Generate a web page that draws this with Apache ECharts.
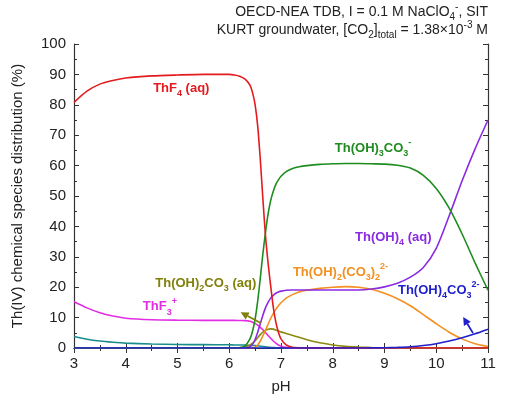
<!DOCTYPE html>
<html><head><meta charset="utf-8">
<script src="https://cdn.jsdelivr.net/npm/echarts/dist/echarts.min.js"></script>
<style>html,body{margin:0;padding:0;background:#fff}#c{width:507px;height:406px}</style>
</head><body><div id="c"></div>
<script>
// ---- data ----
const pH = [3.0,3.25,3.5,3.75,4.0,4.5,5.0,5.5,6.0,6.1,6.2,6.3,6.4,6.45,6.5,6.55,6.6,6.65,6.7,6.75,6.8,6.85,6.9,6.95,7.0,7.1,7.2,7.35,7.5,7.75,8.0,8.25,8.5,8.75,9.0,9.25,9.5,9.75,10.0,10.25,10.5,10.75,11.0];
const ThF4 = [80.8,84.5,86.8,88.0,88.8,89.5,89.8,90.0,90.0,89.8,89.4,88.5,86.5,84,80,73,62,49,37,28,20.5,13.5,8.5,5.2,3.0,1.0,0.3,0.05,0,0,0,0,0,0,0,0,0,0,0,0,0,0,0];
const ThOH3CO3 = [0,0,0,0,0,0,0,0,0,0,0.1,0.6,3.0,5.5,9.5,15.5,23,31,38,44,48.5,51.5,53.8,55.3,56.5,58,58.9,59.6,60.0,60.4,60.6,60.7,60.7,60.6,60.5,60.1,59.2,56.8,52.5,46,37.5,28,19];
const ThOH4 = [0,0,0,0,0,0,0,0,0,0,0,0,0.4,1.2,2.8,5.2,8,10.8,13.2,15.0,16.4,17.3,18.0,18.4,18.7,19.0,19.1,19.1,19.1,19.1,19.1,19.1,19.1,19.4,20.1,21.3,23.3,26.5,32.8,43.5,55,65.5,75];
const ThOH2CO32 = [0,0,0,0,0,0,0,0,0,0,0,0,0,0,0.3,1.0,2.3,4.0,5.8,7.8,9.7,11.3,12.7,13.9,14.9,16.4,17.4,18.4,19.0,19.6,20.0,20.2,20.0,19.3,18.0,16.2,13.9,11.0,8.0,5.2,3.0,1.4,0.5];
const ThOH2CO3 = [0,0,0,0,0,0,0,0,0,0,0.05,0.3,1.0,1.6,2.4,3.4,4.4,5.2,5.8,6.2,6.3,6.2,5.9,5.6,5.3,4.8,4.3,3.5,2.7,1.7,1.0,0.55,0.3,0.15,0.07,0,0,0,0,0,0,0,0];
const ThF3 = [15.2,13.2,11.6,10.5,9.8,9.3,9.15,9.1,9.1,9.1,9.05,9.0,8.8,8.5,8.1,7.5,6.8,6.0,5.1,4.1,3.2,2.3,1.6,1.0,0.6,0.2,0.05,0,0,0,0,0,0,0,0,0,0,0,0,0,0,0,0];
const ThF2 = [3.8,2.9,2.3,1.9,1.6,1.3,1.15,1.1,1.05,1.0,1.0,0.95,0.9,0.85,0.8,0.7,0.6,0.5,0.4,0.3,0.22,0.15,0.1,0.07,0.05,0,0,0,0,0,0,0,0,0,0,0,0,0,0,0,0,0,0];
const ThOH4CO3 = [0,0,0,0,0,0,0,0,0,0,0,0,0,0,0,0,0,0,0,0,0,0,0,0,0,0,0,0,0,0,0,0,0,0.03,0.08,0.2,0.4,0.8,1.4,2.3,3.4,4.7,6.2];

const xMin = 3, xMax = 11, xStep = 1;
const yMin = 0, yMax = 100, yStep = 10;

const seriesDefs = [
  {name:'ThF2', data:ThF2, color:'#1a8c8c'},
  {name:'ThF3+', data:ThF3, color:'#e22ee2'},
  {name:'Th(OH)2CO3(aq)', data:ThOH2CO3, color:'#8a8a10'},
  {name:'Th(OH)2(CO3)2', data:ThOH2CO32, color:'#f39020'},
  {name:'Th(OH)4(aq)', data:ThOH4, color:'#8a2be2'},
  {name:'Th(OH)3CO3-', data:ThOH3CO3, color:'#1f8c1f'},
  {name:'ThF4(aq)', data:ThF4, color:'#e31b1f'},
  {name:'Th(OH)4CO3', data:ThOH4CO3, color:'#1f1fcc'}
];

const FONT = 'Liberation Sans, Arial, sans-serif';
const chart = echarts.init(document.getElementById('c'));

const axisCommon = {
  axisLine:{show:true, lineStyle:{color:'#333', width:1.2}},
  axisTick:{show:true, inside:true, length:5, lineStyle:{color:'#333'}},
  minorTick:{show:true, splitNumber:2, length:3, lineStyle:{color:'#333'}},
  splitLine:{show:false}
};

chart.setOption({
  animation:false,
  backgroundColor:'#fff',
  grid:{left:74, right:19, top:44, bottom:58},
  xAxis:[
    Object.assign({type:'value', min:xMin, max:xMax, interval:xStep, position:'bottom',
      name:'pH', nameLocation:'middle', nameGap:31,
      nameTextStyle:{fontSize:15, color:'#222', fontFamily:FONT},
      axisLabel:{fontSize:15, color:'#222', margin:8, fontFamily:FONT}}, axisCommon),
    Object.assign({type:'value', min:xMin, max:xMax, interval:xStep, position:'top',
      axisLabel:{show:false}}, axisCommon)
  ],
  yAxis:[
    Object.assign({type:'value', min:yMin, max:yMax, interval:yStep, position:'left',
      name:'Th(IV) chemical species distribution (%)', nameLocation:'middle', nameGap:49,
      nameTextStyle:{fontSize:15, color:'#222', fontFamily:FONT},
      axisLabel:{fontSize:15, color:'#222', margin:8, fontFamily:FONT}}, axisCommon),
    Object.assign({type:'value', min:yMin, max:yMax, interval:yStep, position:'right',
      axisLabel:{show:false}}, axisCommon)
  ],
  series: seriesDefs.map(s => ({
    type:'line', name:s.name, xAxisIndex:0, yAxisIndex:0,
    data: pH.map((x,i)=>[x, s.data[i]]),
    showSymbol:false, smooth:0.25,
    lineStyle:{color:s.color, width:1.6}, itemStyle:{color:s.color}
  }))
});

// ---- annotations (anchored in data coordinates) ----
function richFor(color, size){
  const base = {fontFamily:FONT, fontWeight:'bold', fill:color, color:color};
  return {
    n: Object.assign({fontSize:size, lineHeight:20}, base),
    sub: Object.assign({fontSize:9, lineHeight:9, verticalAlign:'bottom'}, base),
    sup: Object.assign({fontSize:9, lineHeight:9, verticalAlign:'top'}, base)
  };
}
const labels = [
  {text:'{n|ThF}{sub|4}{n| (aq)}', color:'#e31b1f', at:[4.53, 85.5]},
  {text:'{n|Th(OH)}{sub|3}{n|CO}{sub|3}{sup|-}', color:'#1f8c1f', at:[8.04, 65.8]},
  {text:'{n|Th(OH)}{sub|4}{n| (aq)}', color:'#8a2be2', at:[8.43, 36.5]},
  {text:'{n|Th(OH)}{sub|2}{n|CO}{sub|3}{n| (aq)}', color:'#80800a', at:[4.57, 21.4]},
  {text:'{n|ThF}{sub|3}{sup|+}', color:'#e22ee2', at:[4.33, 13.6]},
  {text:'{n|Th(OH)}{sub|2}{n|(CO}{sub|3}{n|)}{sub|2}{sup|2-}', color:'#f39020', at:[7.23, 25.0]},
  {text:'{n|Th(OH)}{sub|4}{n|CO}{sub|3}{sup|2-}', color:'#1f1fcc', at:[9.26, 19.1]}
];
const arrows = [
  {from:[6.61, 8.2], to:[6.22, 11.8], color:'#80800a'},
  {from:[10.71, 4.9], to:[10.52, 10.2], color:'#1f1fcc'}
];

function titleRich(){
  const base = {fontFamily:FONT, fill:'#222', color:'#222'};
  return {
    n: Object.assign({fontSize:14, lineHeight:20}, base),
    sub: Object.assign({fontSize:10, lineHeight:10, verticalAlign:'bottom'}, base),
    sup: Object.assign({fontSize:10, lineHeight:10, verticalAlign:'top'}, base)
  };
}

const g = [];
labels.forEach(l => {
  const p = chart.convertToPixel({gridIndex:0}, l.at);
  g.push({type:'text', x:p[0], y:p[1], z:10,
    style:{text:l.text, rich:richFor(l.color, 13), fill:l.color, align:'left', verticalAlign:'middle',
      font:'bold 13px ' + FONT}});
});
arrows.forEach(a => {
  const t = chart.convertToPixel({gridIndex:0}, a.from);
  const h = chart.convertToPixel({gridIndex:0}, a.to);
  const dx = h[0]-t[0], dy = h[1]-t[1], L = Math.hypot(dx,dy);
  const ux = dx/L, uy = dy/L, px = -uy, py = ux;
  const bl = 8, hw = 4;
  const bx = h[0]-ux*bl, by = h[1]-uy*bl;
  g.push({type:'line', z:10, shape:{x1:t[0], y1:t[1], x2:bx, y2:by}, style:{stroke:a.color, lineWidth:1.8}});
  g.push({type:'polygon', z:10, shape:{points:[[h[0],h[1]],[bx+px*hw,by+py*hw],[bx-px*hw,by-py*hw]]}, style:{fill:a.color}});
});
g.push({type:'text', x:488, y:12, z:10, style:{text:'{n|OECD-NEA TDB, I = 0.1 M NaClO}{sub|4}{sup|-}{n|, SIT}', rich:titleRich(), align:'right', verticalAlign:'middle', font:'14px '+FONT, fill:'#222'}});
g.push({type:'text', x:488, y:30, z:10, style:{text:'{n|KURT groundwater, [CO}{sub|2}{n|]}{sub|total}{n| = 1.38×10}{sup|-3}{n| M}', rich:titleRich(), align:'right', verticalAlign:'middle', font:'14px '+FONT, fill:'#222'}});
chart.setOption({graphic:g});
</script>
</body></html>
